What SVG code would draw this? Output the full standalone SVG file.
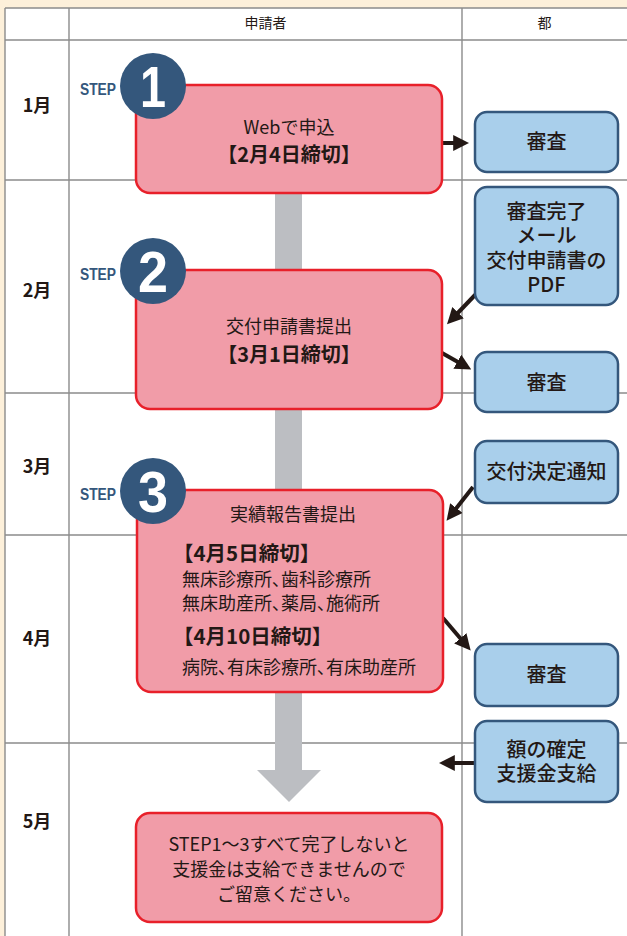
<svg xmlns="http://www.w3.org/2000/svg" width="627" height="936" viewBox="0 0 627 936">
<defs>
<style>
text{font-family:"Noto Sans CJK JP","Noto Sans",sans-serif;fill:#231815}
.grid{stroke:#8c8c8c;stroke-width:1.4;fill:none}
.pink{fill:#f19ca8;stroke:#e8202a;stroke-width:2.5}
.blue{fill:#a9cfeb;stroke:#34577c;stroke-width:2.5}
.circ{fill:#34577c}
.num{font-family:"Liberation Sans",Arial,sans-serif;font-weight:bold;font-size:58px;fill:#fff;text-anchor:middle}
.step{font-family:"Liberation Sans",Arial,sans-serif;font-weight:bold;font-size:16px;fill:#34577c}
.conn{stroke:#231815;stroke-width:4;fill:none;marker-end:url(#ah)}
.hd{font-size:14px;text-anchor:middle}
.mo{font-size:18px;font-weight:bold;text-anchor:middle}
.bt{font-size:20px;font-weight:500;text-anchor:middle}
.pt{font-size:18px;text-anchor:middle}
.pb{font-size:20px;font-weight:bold;text-anchor:middle}
.lt{font-size:18px;font-feature-settings:"palt"}
.lb{font-size:20.5px;font-weight:bold}
</style>
<marker id="ah" markerWidth="4" markerHeight="4" refX="2.2" refY="2" orient="auto" markerUnits="strokeWidth">
<path d="M0,0 L4,2 L0,4 z" fill="#231815"/>
</marker>
</defs>
<rect x="0" y="0" width="627" height="936" fill="#fdf0da"/>
<rect x="5" y="8" width="630" height="940" fill="#ffffff"/>
<g id="grid">
<path class="grid" d="M5,8 H627 M5,40 H627 M5,180 H627 M5,393 H627 M5,535 H627 M5,743 H627 M5,8 V936 M69,8 V936 M462,8 V936"/>
</g>
<g id="headers">
<text class="hd" x="265.5" y="28">申請者</text>
<text class="hd" x="544.5" y="28">都</text>
<text class="mo" x="37" y="112">1月</text>
<text class="mo" x="37" y="297">2月</text>
<text class="mo" x="37" y="473">3月</text>
<text class="mo" x="37" y="645">4月</text>
<text class="mo" x="37" y="828">5月</text>
</g>
<g id="flow">
<rect x="275" y="190" width="27" height="582" fill="#bcbec2"/>
<path d="M257,770 L321,770 L289,802 z" fill="#bcbec2"/>
</g>
<g id="connectors">
<path class="conn" d="M442,143 L462,143"/>
<path class="conn" d="M476,294 L452,319"/>
<path class="conn" d="M442,353 L465,366"/>
<path class="conn" d="M473,487 L451,515"/>
<path class="conn" d="M443,618 L466,645"/>
<path class="conn" d="M475,763 L446,763"/>
</g>
<g id="step1">
<rect class="pink" x="136" y="85" width="306" height="108" rx="14"/>
<text class="pt" x="289" y="134">Webで申込</text>
<text class="pb" x="289" y="162">【2月4日締切】</text>
<circle class="circ" cx="153" cy="86" r="33"/>
<text class="num" x="153" y="107" textLength="26" lengthAdjust="spacingAndGlyphs">1</text>
<text class="step" x="80" y="95" textLength="36" lengthAdjust="spacingAndGlyphs">STEP</text>
</g>
<g id="step2">
<rect class="pink" x="136" y="270" width="306" height="139" rx="14"/>
<text class="pt" x="289" y="333">交付申請書提出</text>
<text class="pb" x="289" y="362">【3月1日締切】</text>
<circle class="circ" cx="153" cy="271" r="33"/>
<text class="num" x="153" y="292" textLength="30" lengthAdjust="spacingAndGlyphs">2</text>
<text class="step" x="80" y="280" textLength="36" lengthAdjust="spacingAndGlyphs">STEP</text>
</g>
<g id="step3">
<rect class="pink" x="137" y="490" width="306" height="202" rx="14"/>
<text class="pt" x="293" y="521">実績報告書提出</text>
<text class="lb" x="173" y="561">【4月5日締切】</text>
<text class="lt"><tspan x="182" y="586">無床診療所、歯科診療所</tspan><tspan x="182" y="610">無床助産所、薬局、施術所</tspan></text>
<text class="lb" x="173" y="644">【4月10日締切】</text>
<text class="lt" x="182" y="674">病院、有床診療所、有床助産所</text>
<circle class="circ" cx="153" cy="491" r="33"/>
<text class="num" x="153" y="512" textLength="30" lengthAdjust="spacingAndGlyphs">3</text>
<text class="step" x="80" y="500" textLength="36" lengthAdjust="spacingAndGlyphs">STEP</text>
</g>
<g id="notice">
<rect class="pink" x="136" y="813" width="306" height="109" rx="14"/>
<text class="pt"><tspan x="289" y="851">STEP1～3すべて完了しないと</tspan><tspan x="289" y="876">支援金は支給できませんので</tspan><tspan x="289" y="901">ご留意ください。</tspan></text>
</g>
<g id="review1">
<rect class="blue" x="475" y="112" width="143" height="60" rx="12"/>
<text class="bt" x="546.5" y="149">審査</text>
</g>
<g id="mail">
<rect class="blue" x="475" y="187" width="143" height="118" rx="12"/>
<text class="bt"><tspan x="546.5" y="219">審査完了</tspan><tspan x="546.5" y="243">メール</tspan><tspan x="546.5" y="268">交付申請書の</tspan><tspan x="546.5" y="292">PDF</tspan></text>
</g>
<g id="review2">
<rect class="blue" x="475" y="352" width="143" height="60" rx="12"/>
<text class="bt" x="546.5" y="390">審査</text>
</g>
<g id="decision">
<rect class="blue" x="475" y="441" width="143" height="62" rx="12"/>
<text class="bt" x="546.5" y="479">交付決定通知</text>
</g>
<g id="review3">
<rect class="blue" x="475" y="644" width="143" height="62" rx="12"/>
<text class="bt" x="546.5" y="682">審査</text>
</g>
<g id="payment">
<rect class="blue" x="475" y="721" width="143" height="81" rx="12"/>
<text class="bt"><tspan x="546.5" y="757">額の確定</tspan><tspan x="546.5" y="781">支援金支給</tspan></text>
</g>
</svg>
